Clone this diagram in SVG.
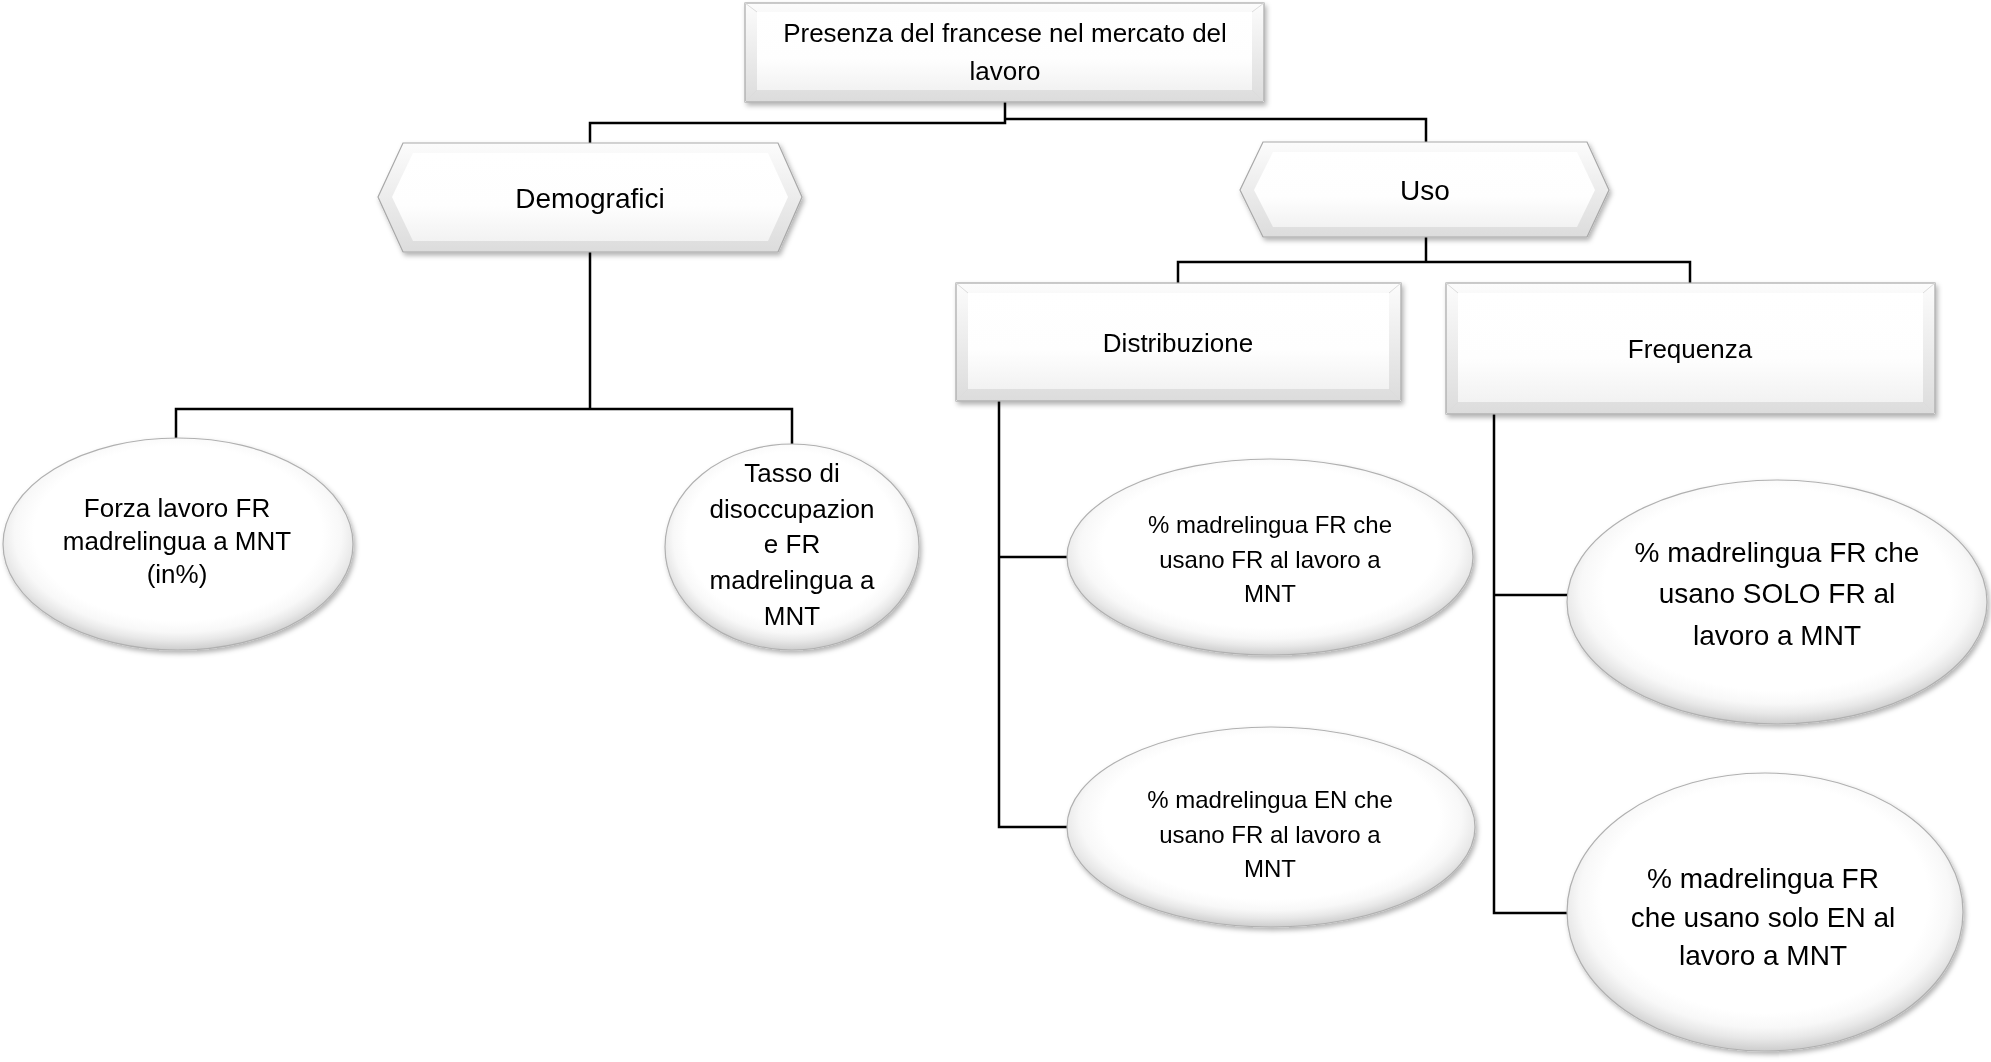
<svg xmlns="http://www.w3.org/2000/svg" width="1991" height="1062" viewBox="0 0 1991 1062">
<style>
text{font-family:"Liberation Sans",Arial,sans-serif;fill:#000;text-anchor:middle}
.t26{font-size:26px}.t24{font-size:24px}.t28{font-size:28px}
.outer{fill:url(#bevel);stroke:#a8a8a8;stroke-width:1.2}
.face{fill:url(#face)}
.corner{stroke:#dcdcdc;stroke-width:1;fill:none}
.ell{fill:url(#ellg);stroke:#b0b0b0;stroke-width:1.2}
.conn{fill:none;stroke:#000;stroke-width:2.5}
</style>
<defs>
<linearGradient id="bevel" x1="0" y1="0" x2="0" y2="1">
<stop offset="0" stop-color="#fcfcfc"/><stop offset="1" stop-color="#dcdcdc"/>
</linearGradient>
<linearGradient id="face" x1="0" y1="0" x2="0" y2="1">
<stop offset="0" stop-color="#ffffff"/><stop offset="0.6" stop-color="#fefefe"/><stop offset="1" stop-color="#f2f2f2"/>
</linearGradient>
<radialGradient id="ellg" cx="0.5" cy="0.45" r="0.55">
<stop offset="0" stop-color="#ffffff"/><stop offset="0.75" stop-color="#ffffff"/><stop offset="0.85" stop-color="#f8f8f8"/><stop offset="0.92" stop-color="#e8e8e8"/><stop offset="1" stop-color="#cdcdcd"/>
</radialGradient>
<filter id="sh" x="-10%" y="-10%" width="120%" height="130%">
<feDropShadow dx="2" dy="3" stdDeviation="2.5" flood-color="#000" flood-opacity="0.3"/>
</filter>
</defs>

<g id="connectors">
<polyline class="conn" points="1005,102 1005,123 590,123 590,143"/>
<polyline class="conn" points="1005,119 1426,119 1426,142"/>
<polyline class="conn" points="590,252 590,409"/>
<polyline class="conn" points="176,438 176,409 792,409 792,444"/>
<polyline class="conn" points="1426,237 1426,262"/>
<polyline class="conn" points="1178,283 1178,262 1690,262 1690,283"/>
<polyline class="conn" points="999,401 999,827 1068,827"/>
<line class="conn" x1="999" y1="557" x2="1068" y2="557"/>
<polyline class="conn" points="1494,414 1494,913 1568,913"/>
<line class="conn" x1="1494" y1="595" x2="1568" y2="595"/>
</g>

<g id="node-root" filter="url(#sh)">
<rect class="outer" x="745" y="3" width="519" height="99"/>
<rect class="face" x="757" y="12" width="495" height="78"/>
<path class="corner" d="M745,3L757,12M1264,3L1252,12M745,102L757,90M1264,102L1252,90"/>
<text class="t26" x="1005" y="42">Presenza del francese nel mercato del</text>
<text class="t26" x="1005" y="80">lavoro</text>
</g>

<g id="node-demografici" filter="url(#sh)">
<polygon class="outer" points="378,197 403,143 778,143 802,197 778,252 403,252"/>
<polygon class="face" points="392,197 413,153 768,153 788,197 768,241 413,241"/>
<text class="t28" x="590" y="208">Demografici</text>
</g>

<g id="node-uso" filter="url(#sh)">
<polygon class="outer" points="1240,190 1263,142 1587,142 1609,190 1587,237 1263,237"/>
<polygon class="face" points="1254,190 1273,152 1577,152 1595,190 1577,227 1273,227"/>
<text class="t28" x="1425" y="200">Uso</text>
</g>

<g id="node-distribuzione" filter="url(#sh)">
<rect class="outer" x="956" y="283" width="445" height="118"/>
<rect class="face" x="968" y="293" width="421" height="96"/>
<path class="corner" d="M956,283L968,293M1401,283L1389,293M956,401L968,389M1401,401L1389,389"/>
<text class="t26" x="1178" y="352">Distribuzione</text>
</g>

<g id="node-frequenza" filter="url(#sh)">
<rect class="outer" x="1446" y="283" width="489" height="131"/>
<rect class="face" x="1458" y="293" width="465" height="109"/>
<path class="corner" d="M1446,283L1458,293M1935,283L1923,293M1446,414L1458,402M1935,414L1923,402"/>
<text class="t26" x="1690" y="358">Frequenza</text>
</g>

<g id="node-forza" filter="url(#sh)">
<ellipse class="ell" cx="178" cy="544" rx="175" ry="106"/>
<text class="t26" x="177" y="517">Forza lavoro FR</text>
<text class="t26" x="177" y="550">madrelingua a MNT</text>
<text class="t26" x="177" y="583">(in%)</text>
</g>

<g id="node-tasso" filter="url(#sh)">
<ellipse class="ell" cx="792" cy="547" rx="127" ry="103"/>
<text class="t26" x="792" y="482">Tasso di</text>
<text class="t26" x="792" y="518">disoccupazion</text>
<text class="t26" x="792" y="553">e FR</text>
<text class="t26" x="792" y="589">madrelingua a</text>
<text class="t26" x="792" y="625">MNT</text>
</g>

<g id="node-dist1" filter="url(#sh)">
<ellipse class="ell" cx="1270" cy="557" rx="203" ry="98"/>
<text class="t24" x="1270" y="533">% madrelingua FR che</text>
<text class="t24" x="1270" y="568">usano FR al lavoro a</text>
<text class="t24" x="1270" y="602">MNT</text>
</g>

<g id="node-dist2" filter="url(#sh)">
<ellipse class="ell" cx="1271" cy="827" rx="204" ry="100"/>
<text class="t24" x="1270" y="808">% madrelingua EN che</text>
<text class="t24" x="1270" y="843">usano FR al lavoro a</text>
<text class="t24" x="1270" y="877">MNT</text>
</g>

<g id="node-freq1" filter="url(#sh)">
<ellipse class="ell" cx="1777" cy="602" rx="210" ry="122"/>
<text class="t28" x="1777" y="562">% madrelingua FR che</text>
<text class="t28" x="1777" y="603">usano SOLO FR al</text>
<text class="t28" x="1777" y="645">lavoro a MNT</text>
</g>

<g id="node-freq2" filter="url(#sh)">
<ellipse class="ell" cx="1765" cy="912" rx="198" ry="139"/>
<text class="t28" x="1763" y="888">% madrelingua FR</text>
<text class="t28" x="1763" y="927">che usano solo EN al</text>
<text class="t28" x="1763" y="965">lavoro a MNT</text>
</g>
</svg>
